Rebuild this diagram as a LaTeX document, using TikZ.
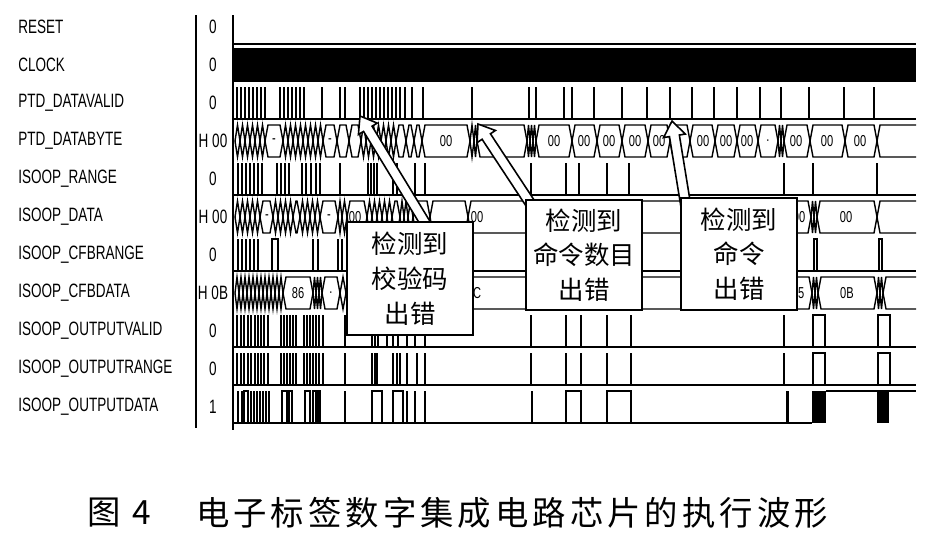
\documentclass[tikz,border=0pt]{standalone}
\usepackage{fontspec}
\setmainfont{Liberation Sans}
\newfontfamily\lblfont[FakeStretch=0.7]{Liberation Sans}
\newfontfamily\cjk{Noto Sans CJK SC}
\newfontfamily\capfont[LetterSpace=12]{Noto Sans CJK SC}
\usetikzlibrary{calc}
\pgfdeclarelayer{notes}
\pgfsetlayers{main,notes}

\tikzset{
  sig/.style={line width=0.8pt},
  sname/.style={anchor=west,inner sep=0pt,font=\lblfont\fontsize{11}{13}\selectfont},
  sval/.style={inner sep=0pt,font=\lblfont\fontsize{11}{13}\selectfont},
  bval/.style={inner sep=0pt,font=\lblfont\fontsize{9}{10}\selectfont},
  note/.style={draw,line width=1.2pt,fill=white,align=center,inner sep=0pt,
    font=\cjk\fontsize{14.5}{19.8}\selectfont},
  captext/.style={inner sep=0pt,font=\capfont\fontsize{19}{21}\selectfont}
}

% one value of a bus, from #1 to #2, middle line at #3
\newcommand\hexbus[3]{%
  \pgfmathsetmacro\busd{min(3,(#2-#1)/2)}%
  \draw[sig] (#1,#3) -- (#1+\busd,#3-16) -- (#2-\busd,#3-16) -- (#2,#3)
    -- (#2-\busd,#3+16) -- (#1+\busd,#3+16) -- cycle;}
% hollow pointer from #1 to #2
\newcommand\hollowarrow[2]{%
  \coordinate (#2n) at ($(#2)!0.3cm!(#1)$);
  \draw[line width=0.9pt,fill=white] ($(#1)!0.1cm!90:(#2)$) -- ($(#2n)!0.1cm!90:(#2)$)
    -- ($(#2n)!0.22cm!90:(#2)$) -- (#2) -- ($(#2n)!0.22cm!-90:(#2)$)
    -- ($(#2n)!0.1cm!-90:(#2)$) -- ($(#1)!0.1cm!-90:(#2)$) -- cycle;}

\begin{document}
\begin{tikzpicture}[x=0.02cm,y=-0.02cm]
\useasboundingbox (0,0) rectangle (928,539);
\foreach \signame/\sigval [count=\i from 0] in
  {RESET/0, CLOCK/0, PTD\_DATAVALID/0, PTD\_DATABYTE/H 00, ISOOP\_RANGE/0,%
   ISOOP\_DATA/H 00, ISOOP\_CFBRANGE/0, ISOOP\_CFBDATA/H 0B,%
   ISOOP\_OUTPUTVALID/0, ISOOP\_OUTPUTRANGE/0, ISOOP\_OUTPUTDATA/1}
  {\node[sname] (name\i) at (18,27+38*\i) {\signame};
   \node[sval] (val\i) at (213,27+38*\i) {\sigval};}
\draw[sig] (196,15) -- (196,428);
\draw[sig] (233,15) -- (233,430);

% RESET, CLOCK
\draw[line width=1.2pt] (233,44) -- (916,44);
\fill (233,48) rectangle (916,82);

% PTD_DATAVALID
\draw[sig] (233,119) -- (916,119);
\foreach \x in {237,241,245,249,253,257,261,265,280,284,288,292,296,300,304,322,340,345,%
   360,364,368,372,376,380,384,388,392,396,400,405,412,423,472,529,536,564,572,594,%
   622,647,670,692,714,737,760,781,809,844,874}
  \draw[sig] (\x,119) -- (\x,87);

% PTD_DATABYTE
\foreach \x in {235,240,...,260} \hexbus{\x}{\x+5}{141};
\foreach \x in {283,288,...,318} \hexbus{\x}{\x+5}{141};
\foreach \x in {361,366,...,391} \hexbus{\x}{\x+5}{141};
\foreach \a/\b in {265/283, 323/337, 337/349, 349/361, 396/406, 406/414, 414/422, 422/470,%
   470/474, 474/477, 477/527, 527/530, 530/533, 533/536, 536/572, 572/597, 597/622,%
   622/648, 648/670, 670/690, 690/715, 715/737, 737/758, 758/778, 778/781, 781/784,%
   784/810, 810/845, 845/877}
  \hexbus{\a}{\b}{141};
\foreach \x/\t [count=\k] in {274/-, 330/-, 446/00, 554/00, 584/00, 609/00, 635/00, 659/00,%
   703/00, 726/00, 747/00, 768/., 796/00, 827/00, 860/00}
  \node[bval] (byte\k) at (\x,141) {\t};

% ISOOP_RANGE
\draw[sig] (233,195) -- (916,195);
\foreach \x in {238,242,246,250,254,258,262,277,281,285,289,302,306,311,316,320,340,%
   368,371,374,377,393,397,415,425,531,566,579,607,629,784,813,877}
  \draw[sig] (\x,195) -- (\x,163);

% ISOOP_DATA
\foreach \x in {235,240,...,255} \hexbus{\x}{\x+5}{217};
\foreach \x in {273,278,...,288} \hexbus{\x}{\x+5}{217};
\foreach \x in {300,305,...,315} \hexbus{\x}{\x+5}{217};
\foreach \x in {367,372,...,387} \hexbus{\x}{\x+5}{217};
\foreach \a/\b in {260/273, 293/300, 320/338, 338/342, 342/347, 347/367, 392/400, 400/404,%
   404/408, 408/413, 413/430, 430/468, 468/811, 811/814, 814/817, 817/877}
  \hexbus{\a}{\b}{217};
\foreach \x/\t [count=\k] in {267/-, 329/-, 355/00, 477/00, 799/00, 846/00}
  \node[bval] (data\k) at (\x,217) {\t};

% ISOOP_CFBRANGE
\draw[sig] (233,271) -- (916,271);
\foreach \x in {238,242,246,250,254,258,313,318,338,342}
  \draw[sig] (\x,271) -- (\x,239);
\foreach \a/\b in {272/278, 814/817, 879/882}
  \draw[sig] (\a,271) |- (\b,239) -- (\b,271);

% ISOOP_CFBDATA
\foreach \x in {235,239,...,279} \hexbus{\x}{\x+4}{293};
\foreach \a/\b in {283/313, 313/316, 316/319, 319/322, 322/340, 340/346, 346/440, 440/600,%
   600/812, 812/815, 815/818, 818/877, 877/880, 880/883}
  \hexbus{\a}{\b}{293};
\foreach \x/\t [count=\k] in {298/86, 331/., 474/0C, 798/05, 847/0B}
  \node[bval] (cfb\k) at (\x,293) {\t};

\foreach \a/\m in {877/141, 877/217, 883/293}
  \draw[sig] (916,\m-16) -- (\a+3,\m-16) -- (\a,\m) -- (\a+3,\m+16) -- (916,\m+16);

% ISOOP_OUTPUTVALID
\draw[sig] (233,347) -- (916,347);
\foreach \x in {237,241,244,248,251,255,258,261,264,268,281,284,287,290,293,296,%
   304,307,310,313,316,319,323,345,372,375,378,387,393,398,407,415,425,%
   531,566,581,607,631,784}
  \draw[sig] (\x,347) -- (\x,315);
\foreach \a/\b in {813/825, 878/890}
  \draw[sig] (\a,347) |- (\b,315) -- (\b,347);

% ISOOP_OUTPUTRANGE
\draw[sig] (233,385) -- (916,385);
\foreach \x in {237,241,244,248,251,255,258,261,264,268,281,284,287,290,293,296,%
   304,307,310,313,316,319,323,345,372,375,377,393,397,400,407,417,425,%
   531,566,581,607,631,784}
  \draw[sig] (\x,385) -- (\x,353);
\foreach \a/\b in {813/825, 878/890}
  \draw[sig] (\a,385) |- (\b,353) -- (\b,385);

% ISOOP_OUTPUTDATA
\draw[sig] (233,423) -- (812,423);
\draw[sig] (826,391) -- (916,391);
\foreach \x in {238,242,251,254,257,260,263,266,269,345,407,415,425,532}
  \draw[sig] (\x,423) -- (\x,391);
\foreach \a/\b in {244/248, 282/287, 289/292, 305/310, 313/316, 318/320, 372/382, 393/403,%
   566/581, 607/631}
  \draw[sig] (\a,423) |- (\b,391) -- (\b,423);
\foreach \a/\b in {786/789, 812/826, 877/889}
  \fill (\a,391) rectangle (\b,423);

\begin{pgfonlayer}{notes}
\node[note,minimum width=2.52cm,minimum height=2.26cm] (chk1) at (410,278.5) {检测到\\校验码\\出错};
\node[note,minimum width=2.32cm,minimum height=2.2cm] (chk2) at (584,255) {检测到\\命令数目\\出错};
\node[note,minimum width=2.32cm,minimum height=2.24cm] (chk3) at (739,254) {检测到\\命令\\出错};
\end{pgfonlayer}

\coordinate (tip1) at (360,116);
\coordinate (tip2) at (478,124);
\coordinate (tip3) at (672,121);
\coordinate (tail1) at ($(chk1.north)+(20,10)$);
\coordinate (tail2) at ($(chk2.north)+(-50,10)$);
\coordinate (tail3) at ($(chk3.north)+(-53,10)$);
\hollowarrow{tail1}{tip1}
\hollowarrow{tail2}{tip2}
\hollowarrow{tail3}{tip3}

\node[captext] (fig) at (119,513) {图 4};
\node[captext] (title) at (512,513) {电子标签数字集成电路芯片的执行波形};
\end{tikzpicture}
\end{document}
